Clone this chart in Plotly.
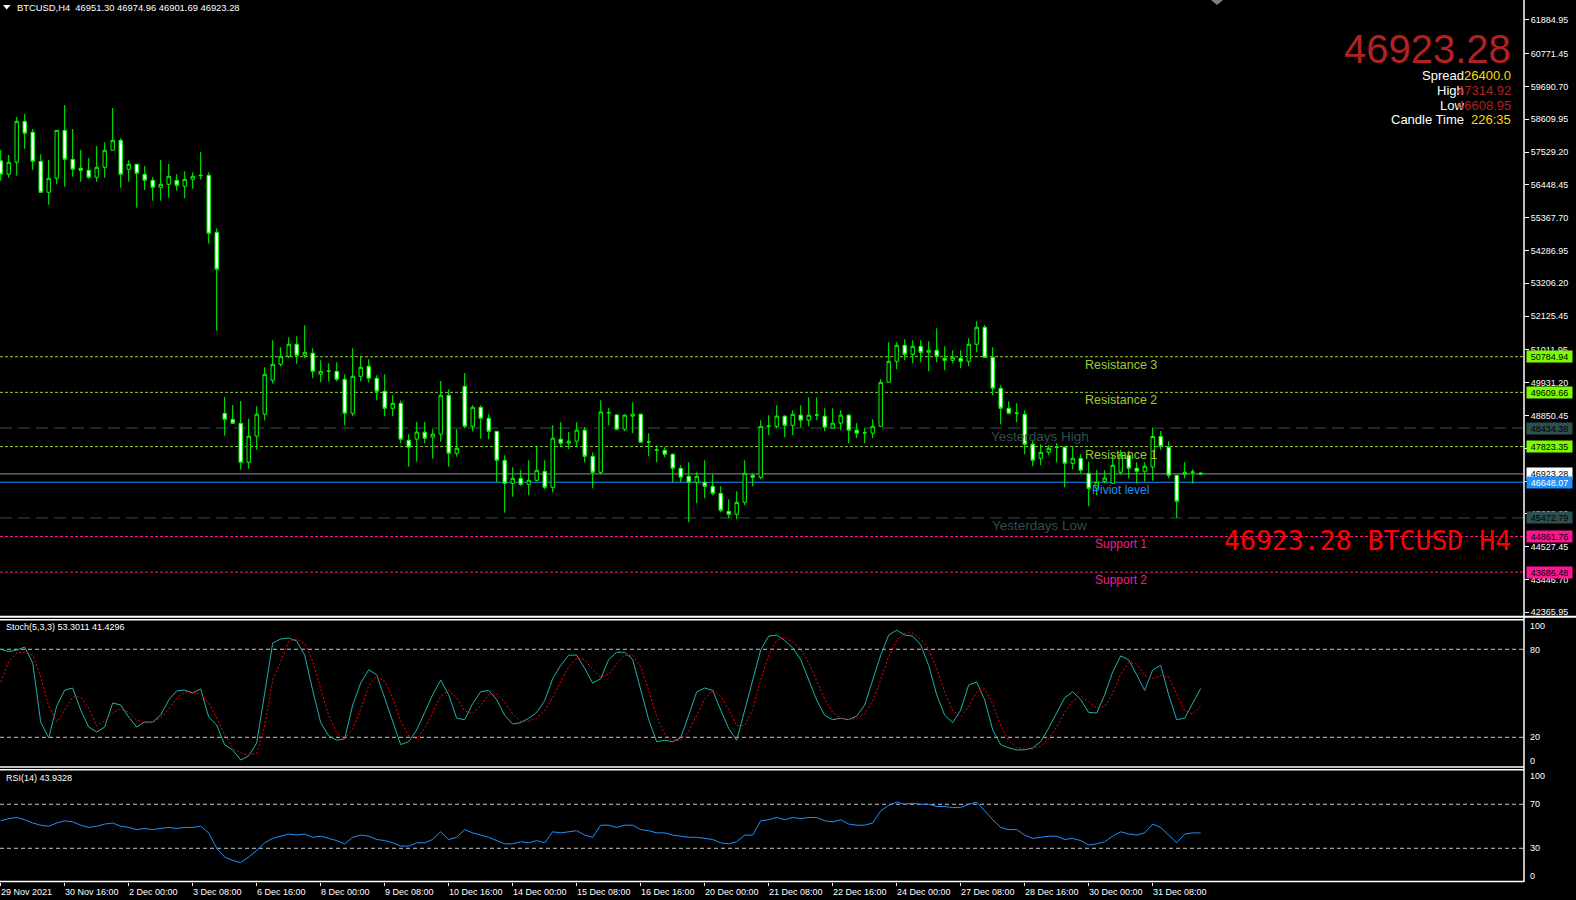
import plotly.graph_objects as go

# ---------------- data (BTCUSD H4) ----------------
opens = [57243, 56795, 57190, 58541, 58182, 57223, 56202, 56663, 58244, 57289,
         56993, 56927, 56696, 57025, 57586, 57915, 56960, 57125, 56795, 56597,
         56366, 56465, 56597, 56399, 56630, 56749, 56762, 54884, 48920, 48722,
         48590, 47305, 48167, 48892, 50008, 50535, 50798, 51194, 50831, 50897,
         50205, 50304, 50304, 50041, 48920, 50139, 50469, 50074, 49645, 49085,
         49249, 48035, 48068, 48299, 48134, 48233, 49513, 47602, 49810, 48491,
         49118, 48755, 48326, 47371, 46613, 46778, 46580, 46712, 47009, 46481,
         48068, 47936, 48002, 48365, 47503, 46976, 48933, 48867, 48398, 48826,
         48892, 47969, 47701, 47701, 47569, 47108, 46844, 46646, 46646, 46514,
         46283, 45690, 45591, 45986, 46877, 46811, 48491, 48491, 48826, 48524,
         48859, 48695, 48859, 48826, 48431, 48596, 48859, 48365, 48266, 48266,
         48491, 49941, 50633, 51161, 50864, 51128, 50930, 50996, 50732, 50666,
         50732, 50633, 51194, 51754, 50765, 49744, 49085, 48920, 48887, 47903,
         47437, 47635, 47800, 47800, 47272, 47437, 46943, 46458, 46666, 46613,
         46976, 47536, 47108, 47009, 47150, 48156, 47800, 46877, 46910, 46976,
         46951.30]
highs = [57596, 57431, 58683, 58782, 58288, 57454, 57266, 58244, 59078, 58288,
         57596, 57332, 57727, 57849, 58980, 57981, 57256, 57125, 57069, 56696,
         57266, 57134, 56795, 56894, 56861, 57525, 56861, 55016, 49457, 49193,
         49325, 48737, 49156, 50436, 51325, 51095, 51425, 51458, 51820, 51062,
         50666, 50568, 50601, 50205, 51062, 50798, 50699, 50173, 50205, 49513,
         49335, 48233, 48638, 48638, 48398, 49983, 49711, 48398, 50248, 49184,
         49184, 48887, 48326, 47536, 47140, 47042, 47371, 47852, 47371, 48524,
         48623, 48299, 48623, 48464, 47635, 49348, 49098, 48900, 48892, 49282,
         48892, 48262, 47866, 47800, 47602, 47207, 47305, 46976, 47371, 46910,
         46514, 46086, 46349, 47371, 46943, 48689, 48854, 49184, 48859, 49019,
         49184, 49447, 49447, 49085, 49085, 49019, 48892, 48596, 48431, 48722,
         50040, 51259, 51259, 51358, 51325, 51325, 51292, 51721, 51128, 50996,
         50996, 51392, 51952, 51832, 51095, 49843, 49316, 49249, 49019, 48035,
         47899, 47866, 47932, 47833, 47833, 47569, 47322, 47052, 47042, 47546,
         47711, 47678, 47305, 47305, 48434, 48337, 47998, 46877, 47315, 47075,
         46974.96]
lows = [56584, 56683, 56749, 57639, 56937, 56202, 55793, 56475, 56386, 56716,
        56551, 56650, 56551, 56683, 57586, 56353, 56551, 55695, 56278, 55925,
        55925, 56024, 56255, 56004, 56321, 56617, 54511, 51642, 48182, 48590,
        47062, 47095, 47721, 48684, 49897, 50469, 50732, 50553, 50732, 50074,
        49941, 49974, 49974, 48524, 48821, 49974, 49941, 49348, 48821, 48821,
        47936, 47161, 47326, 47936, 47425, 47985, 47161, 47491, 48425, 48326,
        48082, 48062, 46656, 45645, 46172, 46534, 46218, 46679, 46415, 46316,
        47805, 47740, 47805, 47305, 46448, 46910, 48524, 48365, 48326, 48262,
        47936, 47503, 47305, 47470, 46646, 46646, 45328, 45954, 46119, 46218,
        45657, 45459, 45426, 45888, 46514, 46745, 48200, 48425, 48134, 48200,
        48458, 48491, 48695, 48332, 48431, 48365, 47936, 48101, 47936, 48101,
        48491, 49941, 50370, 50666, 50568, 50601, 50304, 50601, 50337, 50568,
        50403, 50469, 50930, 50742, 49513, 48557, 48887, 48623, 47569, 47174,
        47207, 47536, 47305, 46481, 47075, 46943, 45855, 46228, 46613, 46613,
        46893, 46778, 46613, 46666, 46699, 47711, 46778, 45473, 46778, 46608.95,
        46901.69]
closes = [56795, 57190, 58541, 58149, 57223, 56202, 56663, 58244, 57289, 56960,
          56927, 56696, 57025, 57586, 57915, 56795, 57125, 56828, 56597, 56366,
          56465, 56729, 56432, 56630, 56729, 56762, 54851, 53665, 48722, 48590,
          47305, 48167, 48892, 50205, 50535, 50798, 51194, 50831, 50930, 50304,
          50304, 50314, 50041, 48920, 50139, 50436, 50074, 49645, 49085, 49249,
          48068, 47804, 48299, 48101, 48233, 49513, 47602, 47767, 48491, 49118,
          48755, 48326, 47371, 46613, 46778, 46580, 46712, 47042, 46481, 48101,
          47936, 48002, 48365, 47503, 46976, 48966, 48943, 48398, 48859, 48892,
          47969, 47979, 47711, 47569, 47108, 46811, 46646, 46844, 46514, 46283,
          45723, 45591, 45986, 46943, 46811, 48491, 48501, 48826, 48524, 48887,
          48695, 48859, 48869, 48464, 48596, 48859, 48365, 48266, 48276, 48491,
          49941, 50633, 51161, 50864, 51128, 50930, 50996, 50798, 50666, 50765,
          50633, 51194, 51754, 50765, 49744, 49085, 48920, 48930, 47903, 47371,
          47635, 47767, 47810, 47272, 47437, 47042, 46448, 46656, 46788, 47207,
          47569, 47108, 47009, 47174, 48156, 47827, 46877, 46020, 46976, 46986,
          46923.28]

stoch_main = [80, 78.4, 79.5, 81.5, 70.8, 30.4, 19.5, 41.3, 52.2, 53.6,
              38.6, 27, 23.6, 27, 43.4, 42, 33.8, 27, 30.4, 30.4,
              35.2, 45.4, 51.6, 52.2, 50.2, 53, 33.8, 28.4, 14.8, 11.3,
              4.5, 7.3, 16.1, 48.8, 84.3, 87, 87.7, 85.6, 76, 52,
              30, 21, 18, 19, 42, 57, 66, 62.6, 47, 32,
              15, 17, 25, 37, 49, 59, 49, 33, 32, 43,
              51, 52, 45.6, 35, 29, 30, 33, 37, 45, 60,
              69, 76, 76, 67, 57, 60, 73, 78, 78, 73,
              52, 32, 17, 18, 17, 19.7, 35, 51, 53.6, 52,
              38.6, 26, 18, 38.6, 59, 79.5, 89, 89.7, 86, 81,
              73, 59, 45.4, 35, 32, 33, 32, 34.5, 42, 59,
              76, 89.7, 93, 89.7, 89, 83, 69, 49, 35, 30,
              38.6, 55.7, 57.7, 45.5, 25, 15, 12.8, 11.4, 11.4, 12.8,
              17, 26.3, 37, 47, 51, 45.6, 37, 36.5, 49, 64.6,
              75.5, 72.8, 62.6, 52, 66, 69, 49, 32, 33, 43.5,
              53.3011]
stoch_signal = [57.7, 71.4, 77.5, 78.1, 76.1, 61.1, 41.3, 30.4, 38.6, 47.5,
                47.5, 40, 27.7, 31.1, 36.6, 39.3, 37.2, 31.8, 29.7, 30.4,
                33.2, 39.3, 46.8, 50.9, 50.9, 49.5, 43.4, 33.2, 21.6, 12.7,
                9.3, 7.9, 9.3, 27.7, 59.1, 71.4, 85.6, 87, 84, 72,
                53, 35, 23, 19, 26, 39, 55, 62, 58, 47,
                31, 21, 19, 26, 37, 48, 52, 47, 38, 36,
                42, 49, 49.5, 44, 36, 31, 31, 33, 38, 47,
                58, 68, 74, 73, 66, 61, 63, 70, 76, 76,
                68, 52, 34, 22, 17.5, 18, 24, 35, 46, 52,
                48, 39, 28, 28, 39, 59, 76, 86, 88, 85,
                80, 71, 59, 46, 37, 33, 32, 33, 36, 45,
                59, 75, 86, 91, 91, 87, 80, 67, 51, 38,
                34, 41, 51, 53, 43, 28, 18, 13, 12, 12,
                14, 19, 27, 37, 45, 48, 44, 40, 41, 50,
                63, 71, 70, 62, 60, 62, 61, 50, 38, 36,
                41.4296]
rsi = [55, 57, 58, 56, 53, 51, 50, 53, 55, 54,
       51, 49, 50, 52, 53, 50, 49, 47, 48, 47,
       48, 49, 48, 49, 49, 50, 44, 30, 22, 19,
       17, 22, 28, 35, 39, 41, 43, 42, 43, 40,
       41, 39, 37, 34, 40, 42, 41, 38, 37, 35,
       32, 32, 35, 35, 38, 45, 38, 40, 47, 44,
       42, 40, 37, 34, 34, 36, 35, 37, 35, 45,
       44, 45, 46, 42, 40, 51, 51, 49, 51, 51,
       47, 46, 44, 44, 42, 41, 40, 40, 39, 38,
       35, 34, 36, 42, 42, 55, 56, 58, 56, 58,
       57, 58, 58, 55, 54, 56, 52, 51, 51, 53,
       64, 69, 72, 70, 71, 70, 70, 68, 68, 67,
       67, 70, 72, 64, 56, 49, 47, 47, 42, 39,
       40, 41, 41, 38, 39, 37, 33, 34, 36, 41,
       45, 43, 42, 44, 52, 49, 42, 35, 43, 44,
       43.9328]

time_labels = ["29 Nov 2021", "30 Nov 16:00", "2 Dec 00:00", "3 Dec 08:00", "6 Dec 16:00",
               "8 Dec 00:00", "9 Dec 08:00", "10 Dec 16:00", "14 Dec 00:00", "15 Dec 08:00",
               "16 Dec 16:00", "20 Dec 00:00", "21 Dec 08:00", "22 Dec 16:00", "24 Dec 00:00",
               "27 Dec 08:00", "28 Dec 16:00", "30 Dec 00:00", "31 Dec 08:00"]
BARS_PER_LABEL = 8

price_ticks = [61884.95, 60771.45, 59690.70, 58609.95, 57529.20, 56448.45, 55367.70,
               54286.95, 53206.20, 52125.45, 51011.95, 49931.20, 48850.45, 47769.70,
               46688.95, 45608.20, 44527.45, 43446.70, 42365.95]

level_names = ["Resistance 3", "Resistance 2", "Yesterdays High", "Resistance 1",
               "Piviot level", "Yesterdays Low", "Support 1", "Support 2"]
level_prices = [50784.94, 49609.66, 48434.38, 47823.35, 46648.07, 45472.79, 44861.76, 43686.48]

symbol = "BTCUSD"
timeframe = "H4"
last_price = 46923.28
bar_ohlc_text = "46951.30 46974.96 46901.69 46923.28"
spread_text = "26400.0"
day_high_text = "47314.92"
day_low_text = "46608.95"
candle_time_text = "226:35"
stoch_name = "Stoch(5,3,3)"
rsi_name = "RSI(14)"
stoch_levels = [80, 20]
rsi_levels = [70, 30]

# ---------------- geometry ----------------
W, H = 1576, 900
PW, PH = 1524, 882          # plot area in pixels
BAR_PX = 8.0
X0 = -0.7 / BAR_PX
X1 = (PW - 0.7) / BAR_PX
MAIN_TOP, MAIN_BOT = 62538.2, 42250.9


def fx(p):
    return p / PW


def fy(p):
    return 1 - p / PH


bars = list(range(len(closes)))
FONT = "Liberation Sans, Arial, sans-serif"

fig = go.Figure()
fig.add_trace(go.Candlestick(
    x=bars, open=opens, high=highs, low=lows, close=closes,
    increasing=dict(line=dict(color="#00FF00", width=1), fillcolor="#000000"),
    decreasing=dict(line=dict(color="#00FF00", width=1), fillcolor="#FFFFFF"),
    whiskerwidth=0, xaxis="x", yaxis="y", hoverinfo="skip", showlegend=False))
fig.add_trace(go.Scatter(x=bars, y=stoch_main, mode="lines",
                         line=dict(color="#20B2AA", width=1), xaxis="x", yaxis="y2",
                         hoverinfo="skip", showlegend=False))
fig.add_trace(go.Scatter(x=bars, y=stoch_signal, mode="lines",
                         line=dict(color="#FF0000", width=1, dash="2px,2px"), xaxis="x", yaxis="y2",
                         hoverinfo="skip", showlegend=False))
fig.add_trace(go.Scatter(x=bars, y=rsi, mode="lines",
                         line=dict(color="#1E90FF", width=1), xaxis="x", yaxis="y3",
                         hoverinfo="skip", showlegend=False))

shapes = []
# pivot / S-R levels
level_line_colors = ["#9ACD32", "#9ACD32", "#2F4F4F", "#9ACD32", "#1E90FF", "#2F4F4F", "#FF1493", "#FF1493"]
level_dash = ["3px,2px", "3px,2px", "12px,6px", "3px,2px", "solid", "12px,6px", "3px,2px", "3px,2px"]
for p, c, d in zip(level_prices, level_line_colors, level_dash):
    shapes.append(dict(type="line", xref="paper", yref="y", x0=0, x1=1, y0=p, y1=p,
                       line=dict(color=c, width=1, dash=d), layer="below"))
# bid line
shapes.append(dict(type="line", xref="paper", yref="y", x0=0, x1=1, y0=last_price, y1=last_price,
                   line=dict(color="#8C96A0", width=1), layer="below"))
# indicator levels
for lv in stoch_levels:
    shapes.append(dict(type="line", xref="paper", yref="y2", x0=0, x1=1, y0=lv, y1=lv,
                       line=dict(color="#C8C8C8", width=1, dash="4px,3px"), layer="below"))
for lv in rsi_levels:
    shapes.append(dict(type="line", xref="paper", yref="y3", x0=0, x1=1, y0=lv, y1=lv,
                       line=dict(color="#C8C8C8", width=1, dash="4px,3px"), layer="below"))
# panel separators / frame
right_edge = W / PW
shapes.append(dict(type="line", xref="paper", yref="paper", x0=0, x1=right_edge, y0=fy(616.7), y1=fy(616.7),
                   line=dict(color="#FFFFFF", width=2)))
shapes.append(dict(type="line", xref="paper", yref="paper", x0=0, x1=1, y0=fy(619.8), y1=fy(619.8),
                   line=dict(color="#FFFFFF", width=1.5)))
shapes.append(dict(type="line", xref="paper", yref="paper", x0=0, x1=1, y0=fy(767), y1=fy(767),
                   line=dict(color="#FFFFFF", width=1.5)))
shapes.append(dict(type="line", xref="paper", yref="paper", x0=0, x1=1, y0=fy(769.8), y1=fy(769.8),
                   line=dict(color="#FFFFFF", width=1.5)))
shapes.append(dict(type="line", xref="paper", yref="paper", x0=0, x1=1, y0=fy(881.5), y1=fy(881.5),
                   line=dict(color="#FFFFFF", width=1.5)))
shapes.append(dict(type="line", xref="paper", yref="paper", x0=fx(1524), x1=fx(1524), y0=fy(0), y1=fy(882),
                   line=dict(color="#FFFFFF", width=1.5)))
# header triangle and chart-shift marker
shapes.append(dict(type="path", xref="paper", yref="paper",
                   path=f"M {fx(3)} {fy(5)} L {fx(10.5)} {fy(5)} L {fx(6.75)} {fy(9.5)} Z",
                   fillcolor="#FFFFFF", line=dict(width=0)))
shapes.append(dict(type="path", xref="paper", yref="paper",
                   path=f"M {fx(1211)} {fy(0)} L {fx(1223)} {fy(0)} L {fx(1217)} {fy(5)} Z",
                   fillcolor="#808080", line=dict(width=0)))

ann = []


def text(x, y, t, size=9, color="#FFFFFF", xanchor="left", family=FONT, **kw):
    d = dict(xref="paper", yref="paper", x=fx(x), y=fy(y), text=t, showarrow=False,
             xanchor=xanchor, yanchor="middle", font=dict(size=size, color=color, family=family))
    d.update(kw)
    ann.append(d)


# header
text(15, 7.3, f"{symbol},{timeframe}&nbsp;&nbsp;{bar_ohlc_text}", size=9.4)
# top-right block
text(1513, 49, f"{last_price:.2f}", size=40, color="#B22222", xanchor="right")
info_rows = [("Spread", spread_text, "#FFD700", 75.7), ("High", day_high_text, "#B22222", 90),
             ("Low", day_low_text, "#B22222", 105.3), ("Candle Time", candle_time_text, "#FFD700", 119.5)]
for lab, val, col, yy in info_rows:
    text(1466, yy, lab, size=13, xanchor="right")
    text(1513, yy, val, size=13, color=col, xanchor="right")
# big red label
text(1513, 540, f"{last_price:.2f} {symbol} {timeframe}", size=26.5, color="#FF0000",
     xanchor="right", family="DejaVu Sans Mono, monospace")

# level labels
label_colors = ["#9ACD32", "#9ACD32", "#2F4F4F", "#9ACD32", "#1E90FF", "#2F4F4F", "#FF1493", "#FF1493"]
label_cx = [1120.5, 1120.5, 1039.5, 1120.5, 1120, 1039.5, 1121, 1121]
label_sizes = [12.5, 12.5, 13.5, 12.5, 12, 13.5, 12, 12]
for name, p, c, cx, s in zip(level_names, level_prices, label_colors, label_cx, label_sizes):
    ann.append(dict(xref="paper", yref="y", x=fx(cx), y=p, yshift=-8, text=name, showarrow=False,
                    xanchor="center", yanchor="middle", font=dict(size=s, color=c, family=FONT)))

# axis price boxes
box_specs = [(level_prices[0], "#7CFC00", "#000000"), (level_prices[1], "#7CFC00", "#000000"),
             (level_prices[2], "#2F4F4F", "#000000"), (level_prices[3], "#7CFC00", "#000000"),
             (last_price, "#FFFFFF", "#000000"), (level_prices[4], "#1E90FF", "#FFFFFF"),
             (level_prices[5], "#2F4F4F", "#000000"), (level_prices[6], "#FF1493", "#000000"),
             (level_prices[7], "#FF1493", "#000000")]
for p, bg, fc in box_specs:
    ann.append(dict(xref="paper", yref="y", x=1, xshift=2, y=p, text=f"{p:.2f}", showarrow=False,
                    xanchor="left", yanchor="middle", bgcolor=bg, width=44, height=10, borderpad=0.5,
                    align="center", font=dict(size=9, color=fc, family=FONT)))

# indicator names
text(4, 627.3, f"{stoch_name} {stoch_main[-1]:.4f} {stoch_signal[-1]:.4f}", size=9)
text(4, 778.3, f"{rsi_name} {rsi[-1]:.4f}", size=9)
# indicator scale labels
for t, yy in [("100", 625.7), ("80", 649.5), ("20", 737.3), ("0", 760.7),
              ("100", 776.3), ("70", 804.3), ("30", 848.3), ("0", 875.7)]:
    text(1528, yy, t, size=9)

# time labels
label_bars = [i * BARS_PER_LABEL for i in range(len(time_labels))]
for b, t in zip(label_bars, time_labels):
    ann.append(dict(xref="x", yref="paper", x=b, y=0, yshift=-9.7, xshift=-2, text=t, showarrow=False,
                    xanchor="left", yanchor="middle", font=dict(size=9, color="#FFFFFF", family=FONT)))

fig.update_layout(
    width=W, height=H, autosize=False,
    paper_bgcolor="#000000", plot_bgcolor="#000000",
    margin=dict(l=0, r=W - PW, t=0, b=H - PH, pad=0),
    showlegend=False, hovermode=False, boxgap=0.4,
    font=dict(family=FONT, color="#FFFFFF", size=9),
    xaxis=dict(domain=[0, 1], anchor="y3", range=[X0, X1], showgrid=False, zeroline=False,
               showline=False, ticks="outside", ticklen=3, tickcolor="#FFFFFF", tickwidth=1,
               tickmode="array", tickvals=label_bars, showticklabels=False,
               rangeslider=dict(visible=False), fixedrange=True),
    yaxis=dict(domain=[fy(615.7), 1], anchor="x", side="right", range=[MAIN_BOT, MAIN_TOP],
               showgrid=False, zeroline=False, showline=False, ticks="outside", ticklen=4,
               tickcolor="#FFFFFF", tickmode="array", tickvals=price_ticks,
               ticktext=[f"{v:.2f}" for v in price_ticks],
               tickfont=dict(size=9, color="#FFFFFF", family=FONT), fixedrange=True),
    yaxis2=dict(domain=[fy(766.7), fy(619.3)], anchor="x", side="right", range=[-0.04, 100.44],
                showgrid=False, zeroline=False, showline=False, showticklabels=False, ticks="",
                fixedrange=True),
    yaxis3=dict(domain=[0, fy(769.3)], anchor="x", side="right", range=[-0.64, 101.8],
                showgrid=False, zeroline=False, showline=False, showticklabels=False, ticks="",
                fixedrange=True),
    shapes=shapes, annotations=ann,
)

fig.write_html("out.html", config={"displayModeBar": False},
               post_script="document.body.style.margin='0';document.body.style.background='#000';")
